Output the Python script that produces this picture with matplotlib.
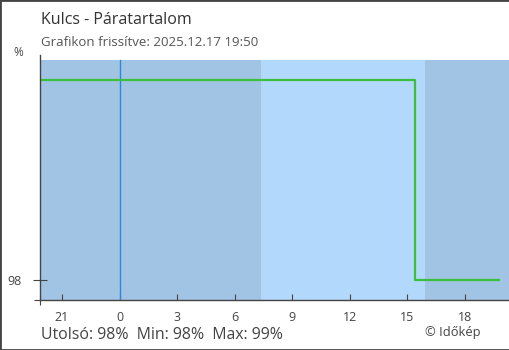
import matplotlib
matplotlib.use('Agg')
import matplotlib.pyplot as plt
from matplotlib.patches import Rectangle

plt.rcParams['font.family'] = ['Open Sans', 'DejaVu Sans']

# hours relative to midnight (negative = previous day)
times = [-4.1, 15.38, 19.8]
humidity = [99, 98, 98]

sunrise = 7.38
sunset = 15.94
tick_hours = [-3, 0, 3, 6, 9, 12, 15, 18]
tick_labels = ['21', '0', '3', '6', '9', '12', '15', '18']
y_ticks = [98]

xmin, xmax = -4.12, 20.3
ylow, yhigh, ytop = 97.9, 99.1, 99.125

fig = plt.figure(figsize=(5.1, 3.5), dpi=100)
ax = fig.add_axes([40.5 / 510, 50 / 350, (509 - 40.5) / 510, 245 / 350])

dark = '#a2c4e4'
light = '#b2d8fc'
ax.fill_between([xmin, sunrise], ylow, yhigh, color=dark, lw=0)
ax.fill_between([sunrise, sunset], ylow, yhigh, color=light, lw=0)
ax.fill_between([sunset, xmax], ylow, yhigh, color=dark, lw=0)
ax.axvline(0, ymax=(yhigh - ylow) / (ytop - ylow), color='#2a8ad8', lw=1)

ax.plot(times, humidity, drawstyle='steps-post', color='#3cc03c', lw=1.6)

ax.set_xlim(xmin, xmax)
ax.set_ylim(ylow, ytop)
for s in ['top', 'right']:
    ax.spines[s].set_visible(False)
for s in ['left', 'bottom']:
    ax.spines[s].set_color('#444')
    ax.spines[s].set_linewidth(1)

ax.set_xticks(tick_hours)
ax.set_xticklabels(tick_labels)
ax.set_xticks([xmin], minor=True)
ax.set_yticks(y_ticks)
ax.set_yticklabels([str(v) for v in y_ticks])
ax.set_yticks([ylow], minor=True)
ax.tick_params(axis='x', which='major', direction='in', length=4.3, width=0.8,
               color='#444', labelcolor='#444', labelsize=9, pad=8)
ax.tick_params(axis='x', which='minor', direction='out', length=3.6, width=0.8, color='#444')
ax.tick_params(axis='y', which='major', direction='inout', length=9.4, width=0.8,
               color='#444', labelcolor='#444', labelsize=9, pad=9)
ax.tick_params(axis='y', which='minor', direction='out', length=4.3, width=0.8, color='#444')

fig.text(41 / 510, 1 - 24.5 / 350, 'Kulcs - Páratartalom', fontsize=11.5, color='#333', va='baseline')
fig.text(41 / 510, 1 - 45.5 / 350, 'Grafikon frissítve: 2025.12.17 19:50', fontsize=9.5,
         color='#555', va='baseline')
fig.text(13 / 510, 1 - 56 / 350, '%', fontsize=8.5, color='#444', va='baseline')
fig.text(41 / 510, 1 - 339 / 350, 'Utolsó: 98%  Min: 98%  Max: 99%', fontsize=11.4,
         color='#444', va='baseline')
fig.text(481 / 510, 1 - 336 / 350, '© Időkép', fontsize=9.3, color='#444',
         ha='right', va='baseline')

fig.patches.append(Rectangle((0, 0), 1, 1, transform=fig.transFigure, fill=False,
                             ec='#444', lw=2))

fig.savefig('out.png', dpi=100)
